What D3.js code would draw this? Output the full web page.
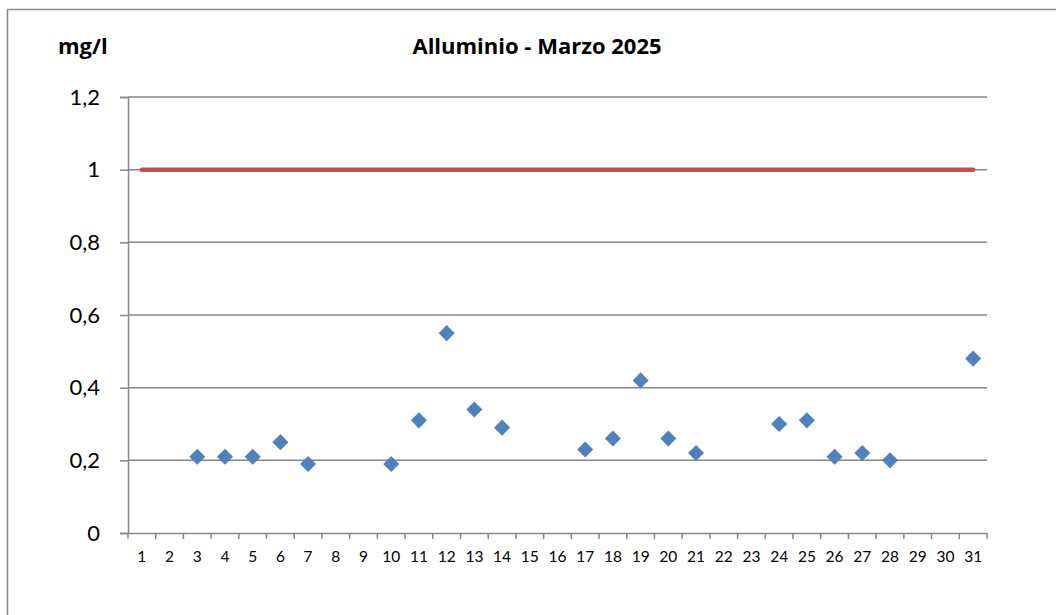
<!DOCTYPE html>
<html>
<head>
<meta charset="utf-8">
<script src="https://cdn.jsdelivr.net/npm/d3@7"></script>
<style>
  body { margin: 0; background: #fff; }
  svg { display: block; font-family: Lato, "Open Sans", sans-serif; }
</style>
</head>
<body>
<svg width="1056" height="615"></svg>
<script>
var days = d3.range(1, 32).map(String);
// measured values (mg/l), null where there is no sample
var values = [null, null, 0.21, 0.21, 0.21, 0.25, 0.19, null, null, 0.19,
              0.31, 0.55, 0.34, 0.29, null, null, 0.23, 0.26, 0.42, 0.26,
              0.22, null, null, 0.30, 0.31, 0.21, 0.22, 0.20, null, null, 0.48];
var limit = 1;
var yTicks = [0, 0.2, 0.4, 0.6, 0.8, 1, 1.2];

var svg = d3.select('svg');
var axisColor = '#868686';
var font = 'Lato, "Open Sans", sans-serif';

// chart frame
svg.append('rect')
  .attr('x', 7.5).attr('y', 9.5)
  .attr('width', 1060).attr('height', 620)
  .attr('fill', 'none').attr('stroke', axisColor).attr('stroke-width', 1.5);

var plotLeft = 128, plotRight = 987, plotTop = 97, plotBottom = 533;

var x = d3.scaleBand().domain(days).range([plotLeft, plotRight]);
var y = d3.scaleLinear().domain([0, 1.2]).range([plotBottom, plotTop]);

// gridlines
svg.append('g').selectAll('line')
  .data(yTicks.slice(1)).enter()
  .append('line')
  .attr('x1', plotLeft).attr('x2', plotRight)
  .attr('y1', function(d) { return y(d) }).attr('y2', function(d) { return y(d) })
  .attr('stroke', axisColor).attr('stroke-width', 1.5);

// y axis
var leftAxis = d3.axisLeft(y).tickValues(yTicks).tickSize(8).tickPadding(20)
  .tickFormat(function(d) { return String(d).replace('.', ',') });
var gy = svg.append('g').attr('transform', 'translate(' + plotLeft + ',0)').call(leftAxis)
  .attr('font-family', font);
gy.select('.domain').attr('stroke', axisColor).attr('stroke-width', 1.5);
gy.selectAll('.tick line').attr('stroke', axisColor).attr('stroke-width', 1.5);
gy.selectAll('.tick text').attr('font-size', 22).attr('fill', '#000');

// x axis
var bottomAxis = d3.axisBottom(x).tickSize(0).tickPadding(18);
var gx = svg.append('g').attr('transform', 'translate(0,' + plotBottom + ')').call(bottomAxis)
  .attr('font-family', font);
gx.select('.domain').attr('stroke', axisColor).attr('stroke-width', 1.5);
gx.selectAll('.tick text').attr('font-size', 15.5).attr('fill', '#000');
svg.append('g').selectAll('line')
  .data(days).enter()
  .append('line')
  .attr('x1', function(d) { return x(d) }).attr('x2', function(d) { return x(d) })
  .attr('y1', plotBottom).attr('y2', plotBottom + 6)
  .attr('stroke', axisColor).attr('stroke-width', 1.5);
svg.append('line')
  .attr('x1', plotRight).attr('x2', plotRight).attr('y1', plotBottom).attr('y2', plotBottom + 6)
  .attr('stroke', axisColor).attr('stroke-width', 1.5);

// limit line
var cx = function(d) { return x(d) + x.bandwidth() / 2 };
svg.append('line')
  .attr('x1', cx(days[0])).attr('x2', cx(days[days.length - 1]))
  .attr('y1', y(limit)).attr('y2', y(limit))
  .attr('stroke', '#C0504D').attr('stroke-width', 4.5).attr('stroke-linecap', 'round');

// points
var diamond = d3.symbol().type(d3.symbolDiamond2).size(165);
svg.append('g').selectAll('path')
  .data(days.map(function(d, i) { return {day: d, v: values[i]} })
    .filter(function(d) { return d.v != null })).enter()
  .append('path')
  .attr('d', diamond)
  .attr('transform', function(d) { return 'translate(' + cx(d.day) + ',' + y(d.v) + ')' })
  .attr('fill', '#4F81BD');

// titles
svg.append('text')
  .attr('x', 537).attr('y', 54).attr('text-anchor', 'middle')
  .attr('font-family', '"Open Sans", sans-serif')
  .attr('font-size', 22).attr('font-weight', 'bold')
  .text('Alluminio - Marzo 2025');
svg.append('text')
  .attr('x', 58).attr('y', 54)
  .attr('font-family', '"Open Sans", sans-serif')
  .attr('font-size', 22).attr('font-weight', 'bold')
  .text('mg/l');
</script>
</body>
</html>
